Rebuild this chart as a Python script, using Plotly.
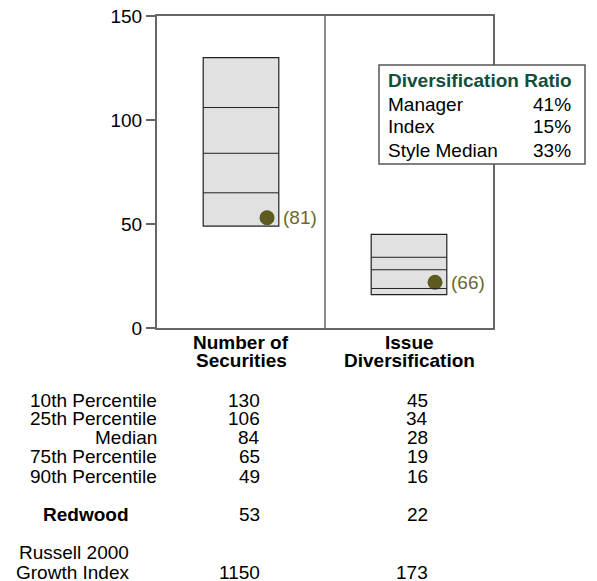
import numpy as np
import plotly.graph_objects as go

categories = ["Number of<br>Securities", "Issue<br>Diversification"]
row_labels = ["10th Percentile", "25th Percentile", "Median", "75th Percentile", "90th Percentile"]
p10 = [130, 45]
p25 = [106, 34]
median = [84, 28]
p75 = [65, 19]
p90 = [49, 16]
redwood = [53, 22]
redwood_rank = [81, 66]
index_vals = [1150, 173]
ratio_labels = ["Manager", "Index", "Style Median"]
ratio_values = ["41%", "15%", "33%"]

FONT = "Liberation Sans, Arial, sans-serif"
FS = 19
OLIVE = "#5f5b20"
OLIVE_TXT = "#6b692c"
RUST = "#b04a0c"
GREEN = "#134e3c"
AXIS = "#666666"

# the page body adds an 8px offset, so the figure is drawn 8px smaller
PAGE_OFF = 8
W, H = 597 - PAGE_OFF, 581 - PAGE_OFF
L, R, T, B = 157 - PAGE_OFF, 104, 16 - PAGE_OFF, 253
PW, PH = W - L - R, H - T - B
BOTTOM_PIX = 328  # y of the value 0 in reference pixels
LEFT_PIX = 157
PAD = 2  # annotation padding correction


def py(pix):
    # reference pixel row -> paper y
    return (BOTTOM_PIX - pix) / PH


def px(pix):
    return (pix - LEFT_PIX) / PW


idx = np.arange(len(categories))
BOX_W = 0.45
DOT_OFF = 0.155
VAL_OFF = 0.113

fig = go.Figure()

fig.add_trace(go.Bar(
    x=idx, base=p90, y=np.array(p10) - np.array(p90), width=BOX_W,
    marker=dict(color="#e1e1e1", line=dict(color="#222222", width=1.2)),
    hoverinfo="skip", showlegend=False))

shapes = []
for i in idx:
    for v in (p25[i], median[i], p75[i]):
        shapes.append(dict(type="line", xref="x", yref="y",
                           x0=i - BOX_W / 2, x1=i + BOX_W / 2, y0=v, y1=v,
                           line=dict(color="#222222", width=1)))
# divider between the two panels
shapes.append(dict(type="line", xref="x", yref="paper", x0=0.5, x1=0.5, y0=0, y1=1,
                   line=dict(color=AXIS, width=1.5)))
# ratio box
shapes.append(dict(type="rect", xref="paper", yref="paper",
                   x0=px(379), x1=px(585), y0=py(164), y1=py(65),
                   fillcolor="white", line=dict(color="#555555", width=1.5), layer="above"))

fig.add_trace(go.Scatter(
    x=idx + DOT_OFF, y=redwood, mode="markers",
    marker=dict(color=OLIVE, size=15), hoverinfo="skip", showlegend=False))

# legend markers in the table area
ypix = [515, 573]
fig.add_trace(go.Scatter(
    x=[-0.5 + 1 / PW, -0.5 + 1 / PW], y=[(BOTTOM_PIX - p) / PH * 150 for p in ypix],
    mode="markers", cliponaxis=False,
    marker=dict(color=[OLIVE, RUST], size=[15, 13], symbol=["circle", "triangle-up"]),
    hoverinfo="skip", showlegend=False))

ann = []


def text(x, y, s, xanchor="center", xref="paper", yref="paper", color="black", bold=False, xshift=0):
    if bold:
        s = "<b>" + s + "</b>"
    if xanchor == "right":
        xshift += PAD
    elif xanchor == "left":
        xshift -= PAD
    ann.append(dict(x=x, y=y, xref=xref, yref=yref, text=s, showarrow=False,
                    xanchor=xanchor, yanchor="middle", xshift=xshift,
                    font=dict(family=FONT, size=FS, color=color)))


for i in idx:
    text(i + DOT_OFF, redwood[i], "(%d)" % redwood_rank[i], xanchor="left",
         xref="x", yref="y", color=OLIVE_TXT, xshift=16)

for i, c in enumerate(categories):
    for j, line in enumerate(c.split("<br>")):
        text(i, py(342 + 18 * j), line, xref="x", bold=True)

rows_y = [400, 418.5, 437, 456.5, 476]
cols = [p10, p25, median, p75, p90]
for k, lab in enumerate(row_labels):
    text(0, py(rows_y[k]), lab, xanchor="right")
    for i in idx:
        text(i + VAL_OFF, py(rows_y[k]), str(cols[k][i]), xanchor="right", xref="x")

text(px(129), py(514.5), "Redwood", xanchor="right", bold=True)
for i in idx:
    text(i + VAL_OFF, py(514.5), str(redwood[i]), xanchor="right", xref="x")
text(px(129), py(552.5), "Russell 2000", xanchor="right")
text(px(129), py(572), "Growth Index", xanchor="right")
for i in idx:
    text(i + VAL_OFF, py(572), str(index_vals[i]), xanchor="right", xref="x")

text(px(388), py(80), "Diversification Ratio", xanchor="left", color=GREEN, bold=True)
for k, (lab, val) in enumerate(zip(ratio_labels, ratio_values)):
    text(px(388), py(104 + 23 * k), lab, xanchor="left")
    text(px(571), py(104 + 23 * k), val, xanchor="right")

fig.update_layout(
    width=W, height=H,
    margin=dict(l=L, r=R, t=T, b=B, autoexpand=False),
    plot_bgcolor="white", paper_bgcolor="white",
    font=dict(family=FONT, size=FS, color="black"),
    shapes=shapes, annotations=ann,
    xaxis=dict(range=[-0.5, 1.5], showticklabels=False, ticks="", showgrid=False,
               zeroline=False, showline=True, linecolor=AXIS, linewidth=2, mirror=True),
    yaxis=dict(range=[0, 150], tickvals=[0, 50, 100, 150], ticks="outside", ticklen=9,
               tickcolor=AXIS, tickwidth=1.5, showgrid=False, zeroline=False,
               showline=True, linecolor=AXIS, linewidth=2, mirror=True,
               tickfont=dict(size=FS), ticklabeloverflow="allow"),
)

fig.write_html("out.html")
